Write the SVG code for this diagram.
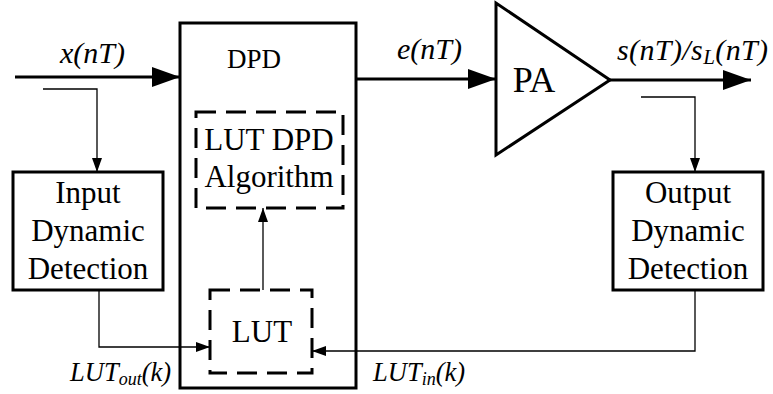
<svg xmlns="http://www.w3.org/2000/svg" width="773" height="394" viewBox="0 0 773 394">
<defs>
<marker id="big" markerUnits="userSpaceOnUse" markerWidth="28" markerHeight="20" refX="28" refY="10" orient="auto"><path d="M0,0 L28,10 L0,20 z" fill="#000"/></marker>
<marker id="small" markerUnits="userSpaceOnUse" markerWidth="14" markerHeight="10" refX="14" refY="5" orient="auto"><path d="M0,0 L14,5 L0,10 z" fill="#000"/></marker>
</defs>
<style>
.box{fill:#fff;stroke:#000;stroke-width:3}
.dash{fill:none;stroke:#000;stroke-width:3;stroke-dasharray:20 10}
.thick{fill:none;stroke:#000;stroke-width:3}
.thin{fill:none;stroke:#000;stroke-width:1.3}
.lbl{font-size:31px;text-anchor:middle}
.it{font-style:italic;font-size:30px}
.lt{font-style:italic;font-size:26.5px}
</style>
<rect width="773" height="394" fill="#fff"/>
<g font-family="'Liberation Serif', 'DejaVu Serif', serif" fill="#000">
<g id="dpd">
<rect class="box" x="180" y="23" width="176" height="365"/>
<text x="254" y="68" font-size="27" text-anchor="middle">DPD</text>
</g>
<g id="algo">
<rect class="dash" x="196" y="112" width="147" height="96"/>
<text class="lbl" x="269" y="150">LUT DPD</text>
<text class="lbl" x="269" y="187">Algorithm</text>
</g>
<g id="lut">
<rect class="dash" x="210" y="290" width="102" height="83"/>
<text class="lbl" x="262" y="342">LUT</text>
</g>
<g id="input-det">
<rect class="box" x="13" y="172" width="150" height="118"/>
<text class="lbl" x="88" y="203">Input</text>
<text class="lbl" x="88" y="241">Dynamic</text>
<text class="lbl" x="88" y="279">Detection</text>
</g>
<g id="output-det">
<rect class="box" x="613" y="172" width="150" height="118"/>
<text class="lbl" x="688" y="203">Output</text>
<text class="lbl" x="688" y="241">Dynamic</text>
<text class="lbl" x="688" y="279">Detection</text>
</g>
<g id="pa">
<polygon class="box" points="496,3 496,155 610,80"/>
<text x="534" y="92" font-size="36" text-anchor="middle">PA</text>
</g>
<g id="connectors">
<path class="thick" d="M15 77 H180" marker-end="url(#big)"/>
<path class="thick" d="M356 79 H496" marker-end="url(#big)"/>
<path class="thick" d="M610 80 H751" marker-end="url(#big)"/>
<path class="thin" d="M43 89 H97 V172" marker-end="url(#small)"/>
<path class="thin" d="M99 290 V347 H210" marker-end="url(#small)"/>
<path class="thin" d="M695 290 V351 H312" marker-end="url(#small)"/>
<path class="thin" d="M641 97 H695 V172" marker-end="url(#small)"/>
<path class="thin" d="M263 290 V208" marker-end="url(#small)"/>
</g>
<g id="labels">
<text class="it" x="60" y="63">x(nT)</text>
<text class="it" x="397" y="59">e(nT)</text>
<text class="it" x="617" y="60" font-size="31" letter-spacing="0.4">s(nT)/s<tspan font-size="21" dy="4">L</tspan><tspan dy="-4">(nT)</tspan></text>
<text class="lt" x="70" y="381">LUT<tspan font-size="18" dy="4">out</tspan><tspan dy="-4">(k)</tspan></text>
<text class="lt" x="373" y="381">LUT<tspan font-size="18" dy="4">in</tspan><tspan dy="-4">(k)</tspan></text>
</g>
</g>
</svg>
